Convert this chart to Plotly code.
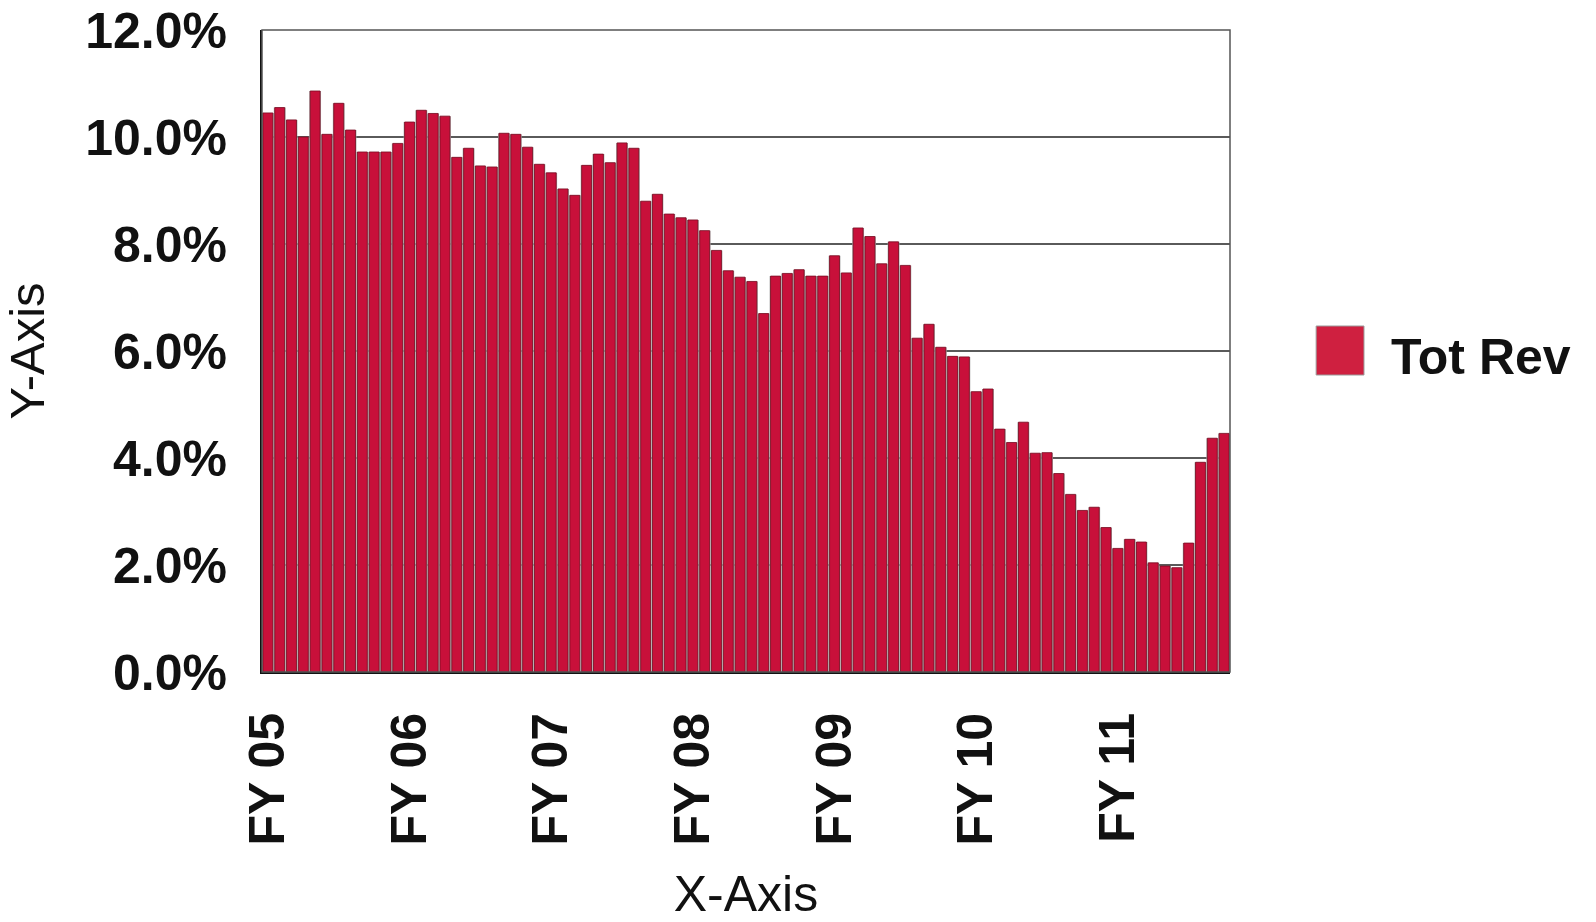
import plotly.graph_objects as go

# ---- data ----
tot_rev = [10.45, 10.55, 10.32, 10.00, 10.86, 10.05, 10.63, 10.13, 9.72, 9.72, 9.72, 9.88,
           10.28, 10.50, 10.44, 10.39, 9.62, 9.79, 9.46, 9.44, 10.07, 10.05, 9.81, 9.49,
           9.33, 9.03, 8.91, 9.47, 9.68, 9.52, 9.89, 9.79, 8.80, 8.93, 8.56, 8.49,
           8.45, 8.25, 7.88, 7.50, 7.38, 7.30, 6.70, 7.40, 7.45, 7.52, 7.40, 7.40,
           7.78, 7.46, 8.30, 8.14, 7.63, 8.04, 7.60, 6.24, 6.50, 6.07, 5.90, 5.89,
           5.24, 5.29, 4.54, 4.29, 4.67, 4.09, 4.10, 3.71, 3.32, 3.02, 3.08, 2.70,
           2.31, 2.48, 2.43, 2.04, 1.98, 1.95, 2.41, 3.92, 4.37, 4.46]
months = list(range(len(tot_rev)))
fy_labels = ["FY 05", "FY 06", "FY 07", "FY 08", "FY 09", "FY 10", "FY 11"]
fy_positions = [0, 12, 24, 36, 48, 60, 72]
y_ticks = [0, 2, 4, 6, 8, 10, 12]
y_tick_text = ["0.0%", "2.0%", "4.0%", "6.0%", "8.0%", "10.0%", "12.0%"]
series_name = "Tot Rev"

RED = "#C8103A"
FONT = "Liberation Sans, Arial, sans-serif"

fig = go.Figure()
# gray gaps between bars (shadow-like)
fig.add_trace(go.Bar(x=months, y=tot_rev, width=1.0, marker=dict(color="#a8a8a8", line=dict(width=0)),
                     showlegend=False, hoverinfo="skip"))
fig.add_trace(go.Bar(x=months, y=tot_rev, width=0.84, name=series_name,
                     marker=dict(color=RED, line=dict(color="#7a0c22", width=0.8)),
                     showlegend=False))

fig.update_layout(
    width=1596, height=922,
    margin=dict(l=262, r=366, t=30, b=250),
    paper_bgcolor="white", plot_bgcolor="white",
    barmode="overlay",
    font=dict(family=FONT, color="#111111"),
    xaxis=dict(range=[-0.5, len(tot_rev) - 0.5], tickmode="array", tickvals=fy_positions,
               ticktext=fy_labels, tickangle=-90, ticks="", ticklabelstandoff=19, automargin=False,
               tickfont=dict(size=50, weight="bold", family=FONT, color="#111111"),
               showgrid=False, zeroline=False, showline=True, linecolor="#111111", linewidth=2,
               title=dict(text="X-Axis", font=dict(size=50, family=FONT, color="#111111"), standoff=32)),
    yaxis=dict(range=[0, 12], tickmode="array", tickvals=y_ticks, ticktext=y_tick_text,
               ticks="", ticklabelstandoff=23, automargin=False,
               tickfont=dict(size=50, weight="bold", family=FONT, color="#111111"),
               showgrid=True, gridcolor="#5a5a5a", gridwidth=1.5, zeroline=False,
               showline=True, linecolor="#111111", linewidth=2,
               title=dict(text="Y-Axis", font=dict(size=49, family=FONT, color="#111111"), standoff=26)),
    shapes=[
        dict(type="rect", xref="paper", yref="paper", x0=0, x1=1, y0=0, y1=1,
             line=dict(color="#555555", width=1.5), fillcolor="rgba(0,0,0,0)", layer="above"),
        dict(type="rect", xref="paper", yref="paper", x0=(1293 * 1.0179 - 262) / 968,
             x1=(1340 * 1.0179 - 262) / 968, y0=(672 - 375) / 642, y1=(672 - 326) / 642,
             line=dict(color="#9a9a9a", width=1), fillcolor="#CF2040"),
    ],
    annotations=[
        dict(text="<b>" + series_name + "</b>", xref="paper", yref="paper",
             x=(1389 - 262) / 968, y=(672 - 357) / 642, xanchor="left", yanchor="middle",
             showarrow=False, font=dict(size=50, family=FONT, color="#111111")),
    ],
)

fig.write_html("out.html")
